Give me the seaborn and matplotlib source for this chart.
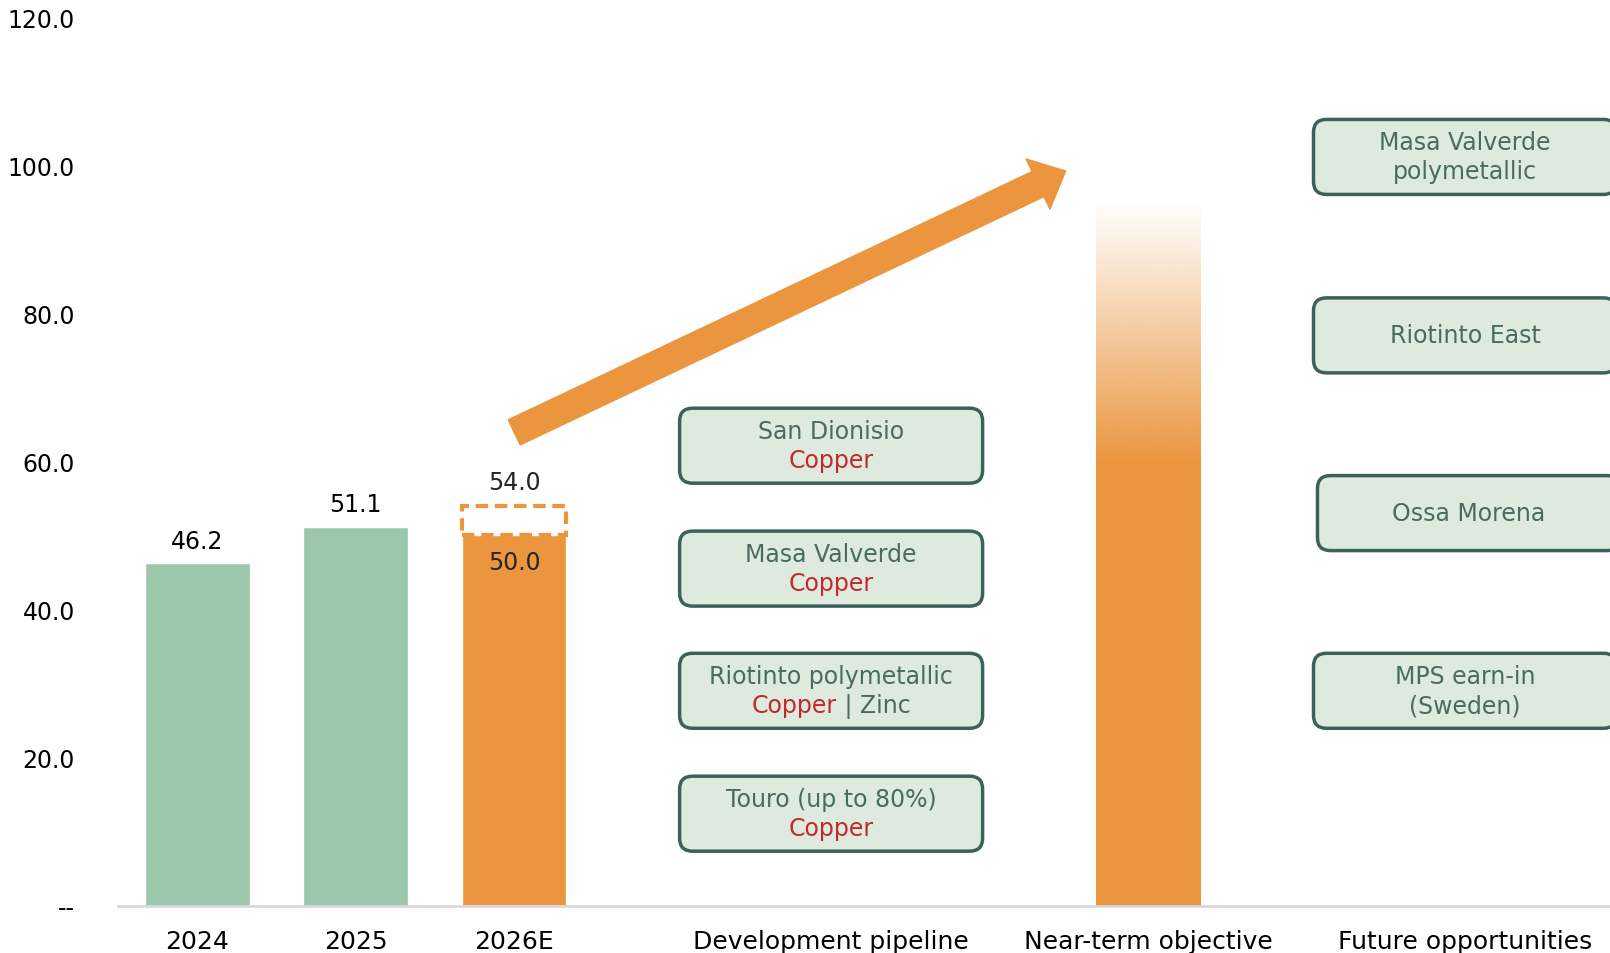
import numpy as np
import pandas as pd
import matplotlib
matplotlib.use("Agg")
import matplotlib.pyplot as plt
import seaborn as sns
from matplotlib.patches import Rectangle, FancyBboxPatch, FancyArrowPatch
from matplotlib.offsetbox import TextArea, HPacker, AnnotationBbox

# ---- data ----
bar_categories = ["2024", "2025", "2026E", "Near-term objective"]
bar_values = [46.2, 51.1, 50.0, 95.0]
axis_order = ["2024", "2025", "2026E", " ", "Development pipeline", "  ",
              "Near-term objective", "   ", "Future opportunities"]
range_2026 = (50.0, 54.0)          # guidance range for 2026E
fade_start = 60.0                  # near-term bar fully opaque below this
arrow_from = (2.0, 63.9)
arrow_to = (5.48, 99.2)

pipeline_names = ["San Dionisio", "Masa Valverde", "Riotinto polymetallic", "Touro (up to 80%)"]
pipeline_metals = [["Copper"], ["Copper"], ["Copper", " | Zinc"], ["Copper"]]
pipeline_y = [62.1, 45.5, 29.0, 12.4]

future_names = [["Masa Valverde", "polymetallic"], ["Riotinto East"], ["Ossa Morena"],
                ["MPS earn-in", "(Sweden)"]]
future_y = [101.1, 77.0, 53.0, 29.0]

yticks = [0, 20, 40, 60, 80, 100, 120]

GREEN = "#9DC7AA"
ORANGE = "#EB963F"
BOX_FACE = "#DDEADD"
BOX_EDGE = "#3B625A"
BOX_TEXT = "#4A6B63"
RED = "#C3282C"

sns.set_style("white")
plt.rcParams["font.family"] = ["DejaVu Sans"]
FS = 17

fig = plt.figure(figsize=(16.1, 9.54), dpi=100)
ax = fig.add_axes([118 / 1610, 47.5 / 954, 1 - 118 / 1610, 888.5 / 954])

df = pd.DataFrame({"category": bar_categories, "value": bar_values})
palette = {"2024": GREEN, "2025": GREEN, "2026E": ORANGE, "Near-term objective": ORANGE}
sns.barplot(data=df, x="category", y="value", hue="category", palette=palette,
            order=axis_order, hue_order=bar_categories, width=0.66,
            saturation=1, legend=False, ax=ax)

ax.set_xlim(-0.5, 8.915)
ax.set_ylim(0, 120)

# find bars by position
bars = {}
for p in ax.patches:
    xc = p.get_x() + p.get_width() / 2
    bars[axis_order[int(round(xc))]] = p

# near-term bar as gradient
nt = bars["Near-term objective"]
nt.set_facecolor("none")
x0, w, top = nt.get_x(), nt.get_width(), nt.get_height()
ys = np.linspace(0, top, 400)
alpha = np.clip((top - ys) / (top - fade_start), 0, 1)
rgba = np.zeros((len(ys), 1, 4))
rgba[:, 0, :3] = matplotlib.colors.to_rgb(ORANGE)
rgba[:, 0, 3] = alpha
ax.imshow(rgba, extent=[x0, x0 + w, 0, top], origin="lower", aspect="auto",
          interpolation="bilinear", zorder=2)
ax.set_xlim(-0.5, 8.915)
ax.set_ylim(0, 120)

# value labels
for cat in ["2024", "2025"]:
    b = bars[cat]
    ax.annotate(f"{b.get_height():.1f}", (b.get_x() + w / 2, b.get_height()),
                xytext=(0, 16.5), textcoords="offset points", ha="center", va="center",
                fontsize=FS, color="black")

b26 = bars["2026E"]
ax.add_patch(Rectangle((b26.get_x(), range_2026[0]), b26.get_width(),
                       range_2026[1] - range_2026[0], facecolor="white",
                       edgecolor=ORANGE, linestyle=(0, (3, 1.6)), linewidth=3, zorder=3))
ax.annotate(f"{range_2026[1]:.1f}", (b26.get_x() + w / 2, range_2026[1]),
            xytext=(0, 17), textcoords="offset points", ha="center", va="center", fontsize=FS)
ax.annotate(f"{range_2026[0]:.1f}", (b26.get_x() + w / 2, range_2026[0]),
            xytext=(0, -19), textcoords="offset points", ha="center", va="center", fontsize=FS)

# arrow
arrow = FancyArrowPatch(arrow_from, arrow_to,
                        arrowstyle="simple,head_length=22,head_width=40,tail_width=20",
                        mutation_scale=1, color=ORANGE, shrinkA=0, shrinkB=0, zorder=4)
ax.add_patch(arrow)

# boxes
fig.canvas.draw()
px_x = ax.transData.transform((1, 0))[0] - ax.transData.transform((0, 0))[0]
px_y = ax.transData.transform((0, 1))[1] - ax.transData.transform((0, 0))[1]
aspect = px_x / px_y
box_w = 303 / px_x
box_h = 75 / px_y
line_off = 14.5 / px_y


def draw_box(xc, yc):
    ax.add_patch(FancyBboxPatch((xc - box_w / 2, yc - box_h / 2), box_w, box_h,
                                boxstyle=f"round,pad=0,rounding_size={13 / px_x}",
                                mutation_aspect=aspect, facecolor=BOX_FACE,
                                edgecolor=BOX_EDGE, linewidth=2.5, zorder=3))


xi = axis_order.index("Development pipeline")
for name, metals, yc in zip(pipeline_names, pipeline_metals, pipeline_y):
    draw_box(xi, yc)
    ax.text(xi, yc + line_off, name, ha="center", va="center", fontsize=FS,
            color=BOX_TEXT, zorder=5)
    parts = [TextArea(m, textprops=dict(color=RED if i == 0 else BOX_TEXT, fontsize=FS))
             for i, m in enumerate(metals)]
    pack = HPacker(children=parts, align="baseline", pad=0, sep=0)
    ab = AnnotationBbox(pack, (xi, yc - line_off), frameon=False,
                        box_alignment=(0.5, 0.5), zorder=5)
    ax.add_artist(ab)

xf = axis_order.index("Future opportunities")
for k, (lines, yc) in enumerate(zip(future_names, future_y)):
    xc = xf + (0.025 if k == 2 else 0)
    draw_box(xc, yc)
    if len(lines) == 1:
        ax.text(xc, yc, lines[0], ha="center", va="center", fontsize=FS,
                color=BOX_TEXT, zorder=5)
    else:
        ax.text(xc, yc + line_off, lines[0], ha="center", va="center", fontsize=FS,
                color=BOX_TEXT, zorder=5)
        ax.text(xc, yc - line_off, lines[1], ha="center", va="center", fontsize=FS,
                color=BOX_TEXT, zorder=5)

# axes styling
ax.set_xlabel("")
ax.set_ylabel("")
ax.set_yticks(yticks)
ax.set_yticklabels(["--"] + [f"{t:.1f}" for t in yticks[1:]])
ax.tick_params(axis="y", length=0, pad=31, labelsize=FS, colors="black")
ax.tick_params(axis="x", length=0, pad=17, labelsize=18, colors="black")
for s in ["left", "right", "top"]:
    ax.spines[s].set_visible(False)
ax.spines["bottom"].set_color("#D9D9D9")
ax.spines["bottom"].set_linewidth(2)
ax.grid(False)

fig.savefig("out.png", dpi=100)
